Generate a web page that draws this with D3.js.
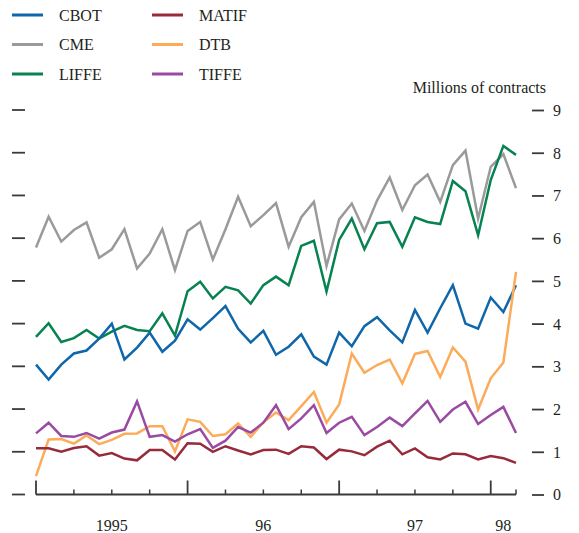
<!DOCTYPE html>
<html>
<head>
<meta charset="utf-8">
<script src="https://cdn.jsdelivr.net/npm/d3@7"></script>
<style>
  html, body { margin: 0; padding: 0; background: #fff; }
  svg { display: block; }
  text { font-family: "Liberation Serif", "Times New Roman", serif; fill: #231f20; }
</style>
</head>
<body>
<script>
// ---- Data (monthly, Jan 1995 – Mar 1998), millions of contracts ----
const months = d3.timeMonth.range(new Date(1995, 0, 1), new Date(1998, 3, 1)).map(d3.timeFormat("%Y-%m"));

const CBOT  = [3.04, 2.69, 3.04, 3.30, 3.37, 3.65, 4.00, 3.16, 3.44, 3.79, 3.34, 3.60, 4.10, 3.86, 4.13, 4.41, 3.88, 3.56, 3.83, 3.27, 3.46, 3.75, 3.23, 3.04, 3.79, 3.47, 3.94, 4.15, 3.84, 3.56, 4.32, 3.79, 4.36, 4.90, 4.00, 3.88, 4.61, 4.27, 4.90];
const CME   = [5.78, 6.50, 5.92, 6.19, 6.37, 5.54, 5.74, 6.21, 5.29, 5.64, 6.21, 5.25, 6.17, 6.38, 5.50, 6.21, 6.97, 6.28, 6.54, 6.82, 5.80, 6.49, 6.85, 5.35, 6.44, 6.81, 6.17, 6.88, 7.42, 6.66, 7.24, 7.49, 6.85, 7.71, 8.05, 6.46, 7.67, 7.97, 7.17];
const LIFFE = [3.69, 4.01, 3.57, 3.66, 3.85, 3.65, 3.81, 3.95, 3.85, 3.82, 4.24, 3.72, 4.76, 4.98, 4.59, 4.86, 4.78, 4.47, 4.90, 5.10, 4.90, 5.82, 5.94, 4.75, 5.96, 6.46, 5.74, 6.35, 6.38, 5.80, 6.49, 6.38, 6.33, 7.34, 7.10, 6.07, 7.36, 8.16, 7.95];
const MATIF = [1.08, 1.08, 1.00, 1.09, 1.13, 0.91, 0.97, 0.84, 0.80, 1.04, 1.04, 0.82, 1.20, 1.19, 1.00, 1.13, 1.03, 0.94, 1.04, 1.05, 0.95, 1.13, 1.10, 0.83, 1.05, 1.01, 0.92, 1.12, 1.26, 0.94, 1.08, 0.87, 0.82, 0.96, 0.94, 0.82, 0.90, 0.85, 0.74];
const DTB   = [0.43, 1.29, 1.30, 1.19, 1.38, 1.18, 1.28, 1.42, 1.43, 1.60, 1.60, 1.01, 1.76, 1.70, 1.37, 1.41, 1.66, 1.35, 1.69, 1.92, 1.74, 2.07, 2.40, 1.68, 2.11, 3.30, 2.85, 3.03, 3.16, 2.60, 3.29, 3.36, 2.75, 3.44, 3.11, 1.99, 2.72, 3.09, 5.21];
const TIFFE = [1.43, 1.68, 1.37, 1.35, 1.44, 1.31, 1.45, 1.52, 2.18, 1.35, 1.39, 1.24, 1.41, 1.53, 1.09, 1.26, 1.58, 1.45, 1.68, 2.09, 1.53, 1.78, 2.09, 1.44, 1.68, 1.82, 1.39, 1.58, 1.80, 1.60, 1.90, 2.19, 1.70, 1.99, 2.17, 1.65, 1.86, 2.05, 1.44];

const seriesNames  = ["CBOT", "CME", "LIFFE", "MATIF", "DTB", "TIFFE"];
const seriesValues = [CBOT, CME, LIFFE, MATIF, DTB, TIFFE];
const seriesColors = ["#0f66a9", "#9a9a9c", "#078250", "#972b3c", "#fbab59", "#9a4aa2"];
const drawOrder    = ["CME", "LIFFE", "CBOT", "DTB", "TIFFE", "MATIF"];

const yTicks      = [0, 1, 2, 3, 4, 5, 6, 7, 8, 9];
const yearStarts  = ["1995-01", "1996-01", "1997-01", "1998-01"];
const yearLabels  = ["1995", "96", "97", "98"];
const quarterTicks = ["1995-04", "1995-07", "1995-10", "1996-04", "1996-07", "1996-10", "1997-04", "1997-07", "1997-10", "1998-03"];
const unitLabel = "Millions of contracts";

// ---- Layout ----
const W = 579, H = 533;
const svg = d3.select("body").append("svg").attr("width", W).attr("height", H);

const x = d3.scalePoint().domain(months).range([36, 516]);
const y = d3.scaleLinear().domain([0, 9]).range([494.5, 110]);

const tickColor = "#3a3a3a";

// Left tick marks
svg.append("g").selectAll("line").data(yTicks).join("line")
  .attr("x1", 12).attr("x2", 25)
  .attr("y1", d => y(d)).attr("y2", d => y(d))
  .attr("stroke", tickColor).attr("stroke-width", 1.8);

// Right axis
const rightAxis = d3.axisRight(y).tickValues(yTicks).tickSize(12).tickPadding(9).tickFormat(d3.format("d"));
const ra = svg.append("g").attr("transform", "translate(532,0)").call(rightAxis);
ra.select(".domain").remove();
ra.selectAll(".tick line").attr("stroke", tickColor).attr("stroke-width", 1.8);
ra.selectAll(".tick text").attr("font-size", 16).attr("font-family", "Liberation Serif, serif").attr("fill", "#231f20").attr("dy", "0.34em");

// Unit label
svg.append("text").attr("x", 546).attr("y", 93).attr("text-anchor", "end")
  .attr("font-size", 16).text(unitLabel);

// Lines
const line = d3.line().x((d, i) => x(months[i])).y(d => y(d));
drawOrder.forEach(name => {
  const k = seriesNames.indexOf(name);
  svg.append("path").datum(seriesValues[k])
    .attr("fill", "none").attr("stroke", seriesColors[k])
    .attr("stroke-width", 2.5).attr("stroke-linejoin", "miter").attr("stroke-miterlimit", 10)
    .attr("d", line);
});

// Bottom axis
const xa = svg.append("g");
xa.append("line").attr("x1", x(months[0])).attr("x2", x(months[months.length - 1]))
  .attr("y1", y(0)).attr("y2", y(0)).attr("stroke", tickColor).attr("stroke-width", 1.8);
xa.selectAll(".major").data(yearStarts).join("line").attr("class", "major")
  .attr("x1", d => x(d)).attr("x2", d => x(d))
  .attr("y1", y(0)).attr("y2", y(0) - 14)
  .attr("stroke", tickColor).attr("stroke-width", 1.8);
xa.selectAll(".minor").data(quarterTicks).join("line").attr("class", "minor")
  .attr("x1", d => x(d)).attr("x2", d => x(d))
  .attr("y1", y(0)).attr("y2", y(0) - 5)
  .attr("stroke", tickColor).attr("stroke-width", 1.5);
xa.selectAll("text").data(yearLabels).join("text")
  .attr("x", (d, i) => {
    const a = x(yearStarts[i]);
    const b = i + 1 < yearStarts.length ? x(yearStarts[i + 1]) : x(months[months.length - 1]);
    return (a + b) / 2;
  })
  .attr("y", 531).attr("text-anchor", "middle").attr("font-size", 16).text(d => d);

// Legend
const legend = svg.append("g");
seriesNames.forEach((name, k) => {
  const col = Math.floor(k / 3), row = k % 3;
  const lx = col === 0 ? 12 : 152;
  const ly = 15 + row * 29.5;
  legend.append("line").attr("x1", lx).attr("x2", lx + 31).attr("y1", ly).attr("y2", ly)
    .attr("stroke", seriesColors[k]).attr("stroke-width", 3);
  legend.append("text").attr("x", lx + 47).attr("y", ly + 5.5).attr("font-size", 16).text(name);
});
</script>
</body>
</html>
